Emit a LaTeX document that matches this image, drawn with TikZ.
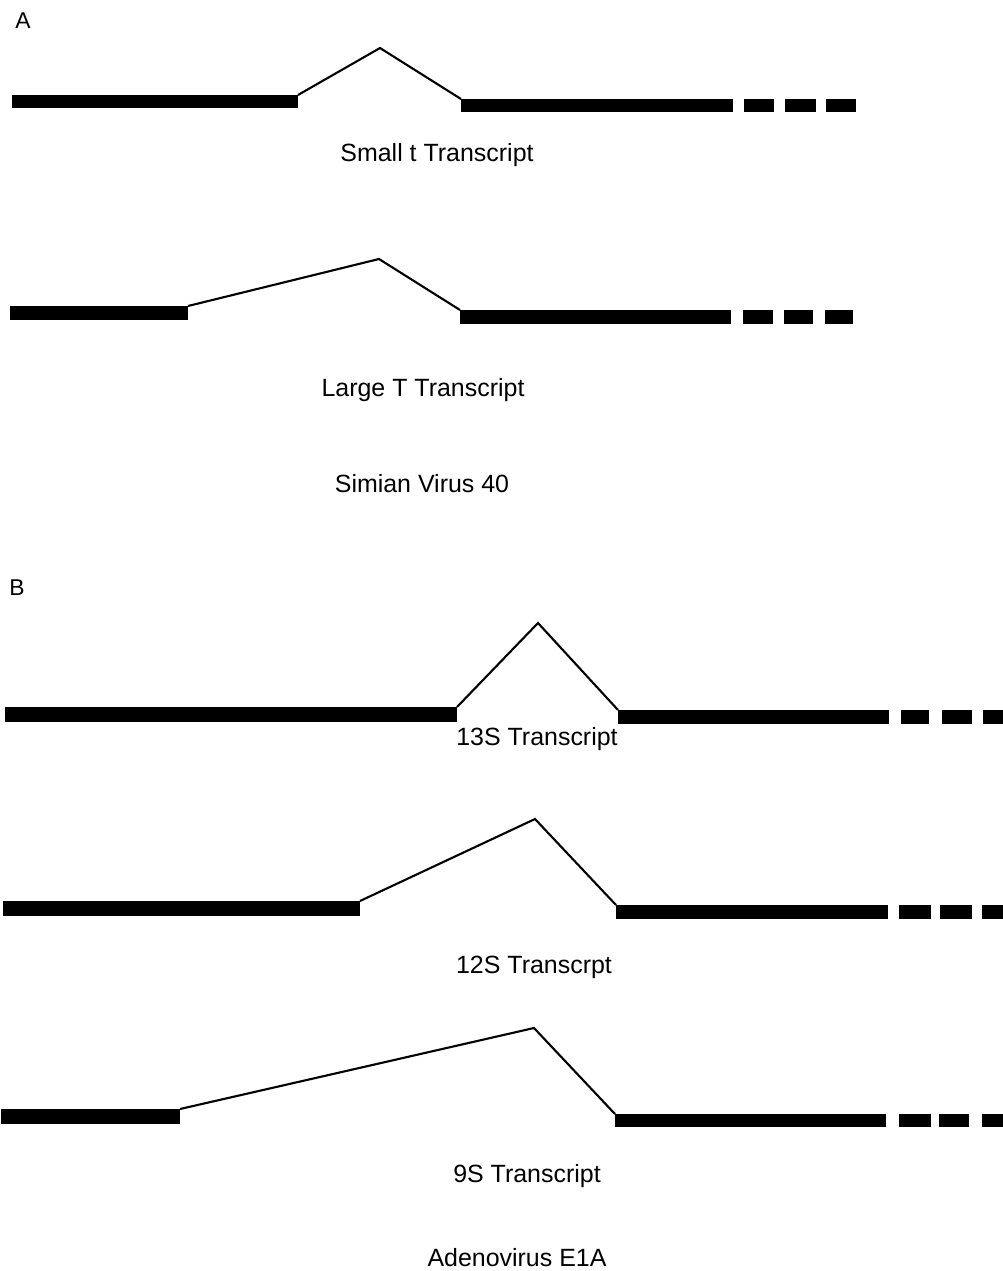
\documentclass[tikz,border=0pt]{standalone}
\usepackage{fontspec}
\setmainfont{Liberation Sans}
\usetikzlibrary{fit}
\begin{document}
\begin{tikzpicture}[x=0.02cm,y=-0.02cm,
  exon/.style={fill=black,draw=none,inner sep=0pt,outer sep=0pt},
  intron/.style={line width=1.2pt,line join=miter},
  caption/.style={anchor=base,inner sep=0pt,font=\fontsize{14.2}{17}\selectfont},
  panel/.style={anchor=center,inner sep=0pt,font=\fontsize{13}{15}\selectfont}]
\useasboundingbox (0,0) rectangle (1003,1271);

% ---------- A: Simian Virus 40 ----------
\node[panel] (lblA) at (23,21) {A};

% small t
\node[exon,fit={(12,95) (298,108)}] (st1) {};
\coordinate (stA) at (380,48);
\node[exon,fit={(461,99) (733,112)}] (st2) {};
\node[exon,fit={(744,99) (774,112)}] (std1) {};
\node[exon,fit={(785,99) (816,112)}] (std2) {};
\node[exon,fit={(826,99) (856,112)}] (std3) {};
\draw[intron] (st1.north east) -- (stA) -- (st2.north west);
\node[caption] (stL) at (437,161) {Small t Transcript};

% large T
\node[exon,fit={(10,306) (188,320)}] (lt1) {};
\coordinate (ltA) at (379,259);
\node[exon,fit={(460,310) (731,324)}] (lt2) {};
\node[exon,fit={(743,310) (773,324)}] (ltd1) {};
\node[exon,fit={(784,310) (813,324)}] (ltd2) {};
\node[exon,fit={(825,310) (853,324)}] (ltd3) {};
\draw[intron] (lt1.north east) -- (ltA) -- (lt2.north west);
\node[caption] (ltL) at (423,396) {Large T Transcript};

\node[caption] (sv40) at (422,492) {Simian Virus 40};

% ---------- B: Adenovirus E1A ----------
\node[panel] (lblB) at (17,588) {B};

% 13S
\node[exon,fit={(5,707) (457,722)}] (a1) {};
\coordinate (aA) at (538,623);
\node[exon,fit={(618,710) (889,724)}] (a2) {};
\node[exon,fit={(901,710) (929,724)}] (ad1) {};
\node[exon,fit={(942,710) (972,724)}] (ad2) {};
\node[exon,fit={(983,710) (1003,724)}] (ad3) {};
\draw[intron] (a1.north east) -- (aA) -- (a2.north west);
\node[caption] (aL) at (537,745) {13S Transcript};

% 12S
\node[exon,fit={(3,901) (360,916)}] (b1) {};
\coordinate (bA) at (535,819);
\node[exon,fit={(616,905) (888,919)}] (b2) {};
\node[exon,fit={(899,905) (931,919)}] (bd1) {};
\node[exon,fit={(940,905) (972,919)}] (bd2) {};
\node[exon,fit={(982,905) (1003,919)}] (bd3) {};
\draw[intron] (b1.north east) -- (bA) -- (b2.north west);
\node[caption] (bL) at (534,973) {12S Transcrpt};

% 9S
\node[exon,fit={(1,1109) (180,1124)}] (c1) {};
\coordinate (cA) at (534,1028);
\node[exon,fit={(615,1114) (886,1127)}] (c2) {};
\node[exon,fit={(899,1114) (931,1127)}] (cd1) {};
\node[exon,fit={(939,1114) (969,1127)}] (cd2) {};
\node[exon,fit={(982,1114) (1003,1127)}] (cd3) {};
\draw[intron] (c1.north east) -- (cA) -- (c2.north west);
\node[caption] (cL) at (527,1182) {9S Transcript};

\node[caption] (ad) at (517,1266) {Adenovirus E1A};
\end{tikzpicture}
\end{document}
